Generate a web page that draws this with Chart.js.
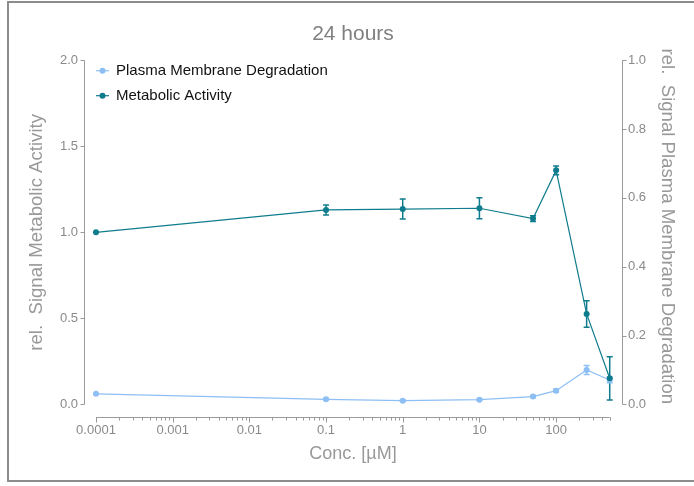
<!DOCTYPE html>
<html>
<head>
<meta charset="utf-8">
<script src="https://cdn.jsdelivr.net/npm/chart.js@4.4.1/dist/chart.umd.min.js"></script>
<style>
  html, body { margin: 0; padding: 0; background: #fff; }
  #wrap { position: relative; width: 694px; height: 486px; overflow: hidden; }
  #frame { position: absolute; left: 7px; top: 1px; width: 700px; height: 477px; border: 2px solid #8c8c8c; border-right: none; }
  canvas { position: absolute; left: 0; top: 0; }
</style>
</head>
<body>
<div id="wrap">
  <div id="frame"></div>
  <canvas id="myChart" width="694" height="486"></canvas>
</div>
<script>
// concentrations in uM
var conc = [0.0001, 0.1, 1, 10, 50, 100, 250, 500]

var metabolic = [1.0, 1.13, 1.135, 1.14, 1.08, 1.36, 0.526, 0.152]
var metabolic_err = [0, 0.029, 0.058, 0.061, 0.017, 0.025, 0.077, 0.126]

var membrane = [0.031, 0.015, 0.011, 0.014, 0.023, 0.040, 0.100, 0.071]
var membrane_err = [0, 0.002, 0.002, 0.002, 0.003, 0.004, 0.013, 0.008]

var x_major = [0.0001, 0.001, 0.01, 0.1, 1, 10, 100]
var x_labels = ['0.0001', '0.001', '0.01', '0.1', '1', '10', '100']
var left_ticks = [0, 0.5, 1.0, 1.5, 2.0]
var right_ticks = [0, 0.2, 0.4, 0.6, 0.8, 1.0]

var left_title = 'rel.  Signal Metabolic Activity'
var right_title = 'rel.  Signal Plasma Membrane Degradation'

var teal = '#0f7c8d'
var lightBlue = '#8dbff4'
var axisGrey = '#9a9a9a'
var FONT = "'Liberation Sans', Arial, Helvetica, sans-serif"

Chart.defaults.font.family = FONT

function points(ys){
    return conc.map(function(c, i){ return {x: c, y: ys[i]} })
}

function xTicks(){
    var arr = []
    x_major.forEach(function(d){
        for (var k = 1; k <= 9; k++){
            if (d * k <= 500) arr.push({value: d * k})
        }
    })
    arr.push({value: 500})
    return arr
}

// axis lines + tick marks, detached from the plot corner
var axesPlugin = {
    id: 'axes',
    beforeDatasetsDraw: function(chart){
        var ctx = chart.ctx
        var x = chart.scales.x, y = chart.scales.y, y2 = chart.scales.y2
        var area = chart.chartArea
        ctx.save()
        ctx.strokeStyle = axisGrey
        ctx.lineWidth = 1

        // left
        var lx = Math.round(area.left) + 0.5
        ctx.beginPath()
        ctx.moveTo(lx, y.getPixelForValue(2.0))
        ctx.lineTo(lx, y.getPixelForValue(0))
        left_ticks.forEach(function(v){
            var py = Math.round(y.getPixelForValue(v)) + 0.5
            ctx.moveTo(lx, py); ctx.lineTo(lx - 4, py)
        })
        ctx.stroke()

        // right
        var rx = Math.round(area.right) + 0.5
        ctx.beginPath()
        ctx.moveTo(rx, y2.getPixelForValue(1.0))
        ctx.lineTo(rx, y2.getPixelForValue(0))
        right_ticks.forEach(function(v){
            var py = Math.round(y2.getPixelForValue(v)) + 0.5
            ctx.moveTo(rx, py); ctx.lineTo(rx + 4, py)
        })
        ctx.stroke()

        // bottom
        var by = Math.round(area.bottom) + 0.5
        ctx.beginPath()
        ctx.moveTo(x.getPixelForValue(0.0001), by)
        ctx.lineTo(x.getPixelForValue(500), by)
        x.ticks.forEach(function(t){
            var px = Math.round(x.getPixelForValue(t.value)) + 0.5
            var len = x_major.indexOf(t.value) >= 0 ? 5 : 3
            ctx.moveTo(px, by); ctx.lineTo(px, by + len)
        })
        ctx.stroke()
        ctx.restore()
    }
}

// y titles centred on the drawn axis line rather than on the whole plot height
var axisTitles = {
    id: 'axisTitles',
    afterDraw: function(chart){
        var ctx = chart.ctx
        var y = chart.scales.y, y2 = chart.scales.y2
        ctx.save()
        ctx.font = '18.6px ' + FONT
        ctx.fillStyle = '#999'
        ctx.textAlign = 'center'
        ctx.textBaseline = 'middle'

        var cy = (y.getPixelForValue(0) + y.getPixelForValue(2.0)) / 2
        ctx.save()
        ctx.translate(y.left + 27, cy)
        ctx.rotate(-Math.PI / 2)
        ctx.fillText(left_title, 0, 0)
        ctx.restore()

        var cy2 = (y2.getPixelForValue(0) + y2.getPixelForValue(1.0)) / 2 - 6
        ctx.save()
        ctx.translate(y2.right - 22, cy2)
        ctx.rotate(Math.PI / 2)
        ctx.fillText(right_title, 0, 0)
        ctx.restore()
        ctx.restore()
    }
}

var errorBars = {
    id: 'errorBars',
    beforeDatasetsDraw: function(chart){
        var ctx = chart.ctx
        ctx.save()
        chart.data.datasets.forEach(function(ds, i){
            var meta = chart.getDatasetMeta(i)
            var scale = chart.scales[ds.yAxisID]
            ctx.strokeStyle = ds.borderColor
            ctx.lineWidth = 1.5
            meta.data.forEach(function(pt, j){
                var e = ds.errors[j]
                if (!e) return
                var yv = ds.data[j].y
                var t = scale.getPixelForValue(yv + e)
                var b = scale.getPixelForValue(yv - e)
                ctx.beginPath()
                ctx.moveTo(pt.x, t); ctx.lineTo(pt.x, b)
                ctx.moveTo(pt.x - 3, t); ctx.lineTo(pt.x + 3, t)
                ctx.moveTo(pt.x - 3, b); ctx.lineTo(pt.x + 3, b)
                ctx.stroke()
            })
        })
        ctx.restore()
    }
}

// legend drawn inside the plot, top left
var innerLegend = {
    id: 'innerLegend',
    afterDraw: function(chart){
        var ctx = chart.ctx
        var area = chart.chartArea
        var order = [1, 0]
        ctx.save()
        ctx.font = '15px ' + FONT
        ctx.textBaseline = 'middle'
        order.forEach(function(idx, i){
            var ds = chart.data.datasets[idx]
            var x0 = area.left + 12
            var yy = area.top + 10.5 + i * 25
            ctx.strokeStyle = ds.borderColor
            ctx.lineWidth = 1.2
            ctx.beginPath()
            ctx.moveTo(x0, yy); ctx.lineTo(x0 + 13, yy)
            ctx.stroke()
            ctx.fillStyle = ds.borderColor
            ctx.beginPath()
            ctx.arc(x0 + 6.5, yy, 3, 0, Math.PI * 2)
            ctx.fill()
            ctx.fillStyle = '#111'
            ctx.fillText(ds.label, x0 + 20, yy)
        })
        ctx.restore()
    }
}

var ctx = document.getElementById('myChart').getContext('2d')
var myChart = new Chart(ctx, {
    type: 'line',
    data: {
        datasets: [{
            label: 'Metabolic Activity',
            data: points(metabolic),
            errors: metabolic_err,
            yAxisID: 'y',
            borderColor: teal,
            backgroundColor: teal,
            borderWidth: 1.2,
            pointRadius: 3,
            pointBorderWidth: 0,
            pointBackgroundColor: teal,
            tension: 0
        }, {
            label: 'Plasma Membrane Degradation',
            data: points(membrane),
            errors: membrane_err,
            yAxisID: 'y2',
            borderColor: lightBlue,
            backgroundColor: lightBlue,
            borderWidth: 1.2,
            pointRadius: 3,
            pointBorderWidth: 0,
            pointBackgroundColor: lightBlue,
            tension: 0
        }]
    },
    options: {
        responsive: false,
        animation: false,
        devicePixelRatio: 1,
        layout: { padding: { left: 10, right: 5, top: 5, bottom: 5 } },
        scales: {
            x: {
                type: 'logarithmic',
                position: 'bottom',
                min: 6.98e-5,
                max: 723,
                grid: { display: false, drawTicks: false },
                border: { display: false },
                afterBuildTicks: function(scale){ scale.ticks = xTicks() },
                afterFit: function(scale){ scale.height = 64 },
                ticks: {
                    autoSkip: false,
                    maxRotation: 0,
                    padding: 6,
                    color: '#8a8a8a',
                    font: { size: 13 },
                    callback: function(value){
                        var i = x_major.indexOf(value)
                        return i >= 0 ? x_labels[i] : ''
                    }
                },
                title: {
                    display: true,
                    text: 'Conc. [\u00b5M]',
                    color: '#999',
                    font: { size: 18 },
                    padding: { top: 0, bottom: 16 }
                }
            },
            y: {
                type: 'linear',
                position: 'left',
                min: -0.0727,
                max: 2.0,
                grid: { display: false, drawTicks: false },
                border: { display: false },
                afterBuildTicks: function(scale){
                    scale.ticks = left_ticks.map(function(v){ return {value: v} })
                },
                afterFit: function(scale){ scale.width = 74 },
                ticks: {
                    padding: 6,
                    color: '#8a8a8a',
                    font: { size: 13 },
                    callback: function(v){ return v.toFixed(1) }
                }
            },
            y2: {
                type: 'linear',
                position: 'right',
                min: -0.0364,
                max: 1.0,
                grid: { display: false, drawTicks: false },
                border: { display: false },
                afterBuildTicks: function(scale){
                    scale.ticks = right_ticks.map(function(v){ return {value: v} })
                },
                afterFit: function(scale){ scale.width = 67 },
                ticks: {
                    padding: 6,
                    color: '#8a8a8a',
                    font: { size: 13 },
                    callback: function(v){ return v.toFixed(1) }
                }
            }
        },
        plugins: {
            legend: { display: false },
            tooltip: { enabled: false },
            title: {
                display: true,
                fullSize: false,
                text: '24 hours',
                color: '#808080',
                font: { size: 21, weight: 'normal' },
                padding: { top: 17, bottom: 13 }
            }
        }
    },
    plugins: [axesPlugin, errorBars, innerLegend, axisTitles]
})
</script>
</body>
</html>
